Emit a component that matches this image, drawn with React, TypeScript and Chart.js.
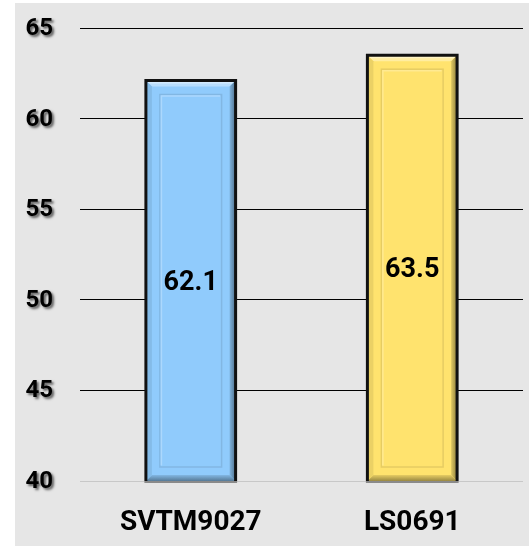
import React, { useEffect, useRef } from "react";
import { Chart, registerables } from "chart.js";

Chart.register(...registerables);

const categories = ["SVTM9027", "LS0691"];
const values = [62.1, 63.5];
const barColors = ["#90CBFC", "#FFE36E"];
const yMin = 40;
const yMax = 65;
const yStep = 5;

const FONT = "Roboto, 'Liberation Sans', Arial, sans-serif";

function mix(hex: string, target: number, amt: number): string {
  const n = parseInt(hex.slice(1), 16);
  const r = (n >> 16) & 255, g = (n >> 8) & 255, b = n & 255;
  const f = (c: number) => Math.round(c + (target - c) * amt);
  return `rgb(${f(r)},${f(g)},${f(b)})`;
}

const bgPlugin = {
  id: "bgPlugin",
  beforeDraw(chart: any) {
    const ctx = chart.ctx;
    ctx.save();
    ctx.fillStyle = "#ffffff";
    ctx.fillRect(0, 0, chart.width, chart.height);
    ctx.fillStyle = "#e6e6e6";
    ctx.fillRect(15, 3, chart.width - 15, chart.height - 3);
    ctx.restore();
  },
};

const bevelPlugin = {
  id: "bevelPlugin",
  afterDatasetsDraw(chart: any) {
    const ctx = chart.ctx;
    const meta = chart.getDatasetMeta(0);
    meta.data.forEach((bar: any, i: number) => {
      const { x, y, base, width } = bar.getProps(["x", "y", "base", "width"], true);
      const col = barColors[i];
      const L = x - width / 2;
      const R = x + width / 2;
      const T = y;
      const B = Math.min(base, chart.chartArea.bottom);
      const bw = 6;
      ctx.save();
      // top bevel (light)
      ctx.fillStyle = mix(col, 255, 0.35);
      ctx.beginPath();
      ctx.moveTo(L, T); ctx.lineTo(R, T); ctx.lineTo(R - bw, T + bw); ctx.lineTo(L + bw, T + bw); ctx.closePath();
      ctx.fill();
      ctx.fillStyle = mix(col, 255, 0.6);
      ctx.fillRect(L + 2, T + 1, width - 4, 2);
      // right bevel (dark gradient)
      const gr = ctx.createLinearGradient(R - bw, 0, R, 0);
      gr.addColorStop(0, mix(col, 0, 0.12));
      gr.addColorStop(1, mix(col, 0, 0.45));
      ctx.fillStyle = gr;
      ctx.beginPath();
      ctx.moveTo(R, T); ctx.lineTo(R, B); ctx.lineTo(R - bw, B - bw); ctx.lineTo(R - bw, T + bw); ctx.closePath();
      ctx.fill();
      // bottom bevel
      const gb = ctx.createLinearGradient(0, B - bw, 0, B);
      gb.addColorStop(0, mix(col, 0, 0.1));
      gb.addColorStop(1, mix(col, 0, 0.4));
      ctx.fillStyle = gb;
      ctx.beginPath();
      ctx.moveTo(L, B); ctx.lineTo(R, B); ctx.lineTo(R - bw, B - bw); ctx.lineTo(L + bw, B - bw); ctx.closePath();
      ctx.fill();
      // left bevel
      ctx.fillStyle = mix(col, 0, 0.08);
      ctx.beginPath();
      ctx.moveTo(L, T); ctx.lineTo(L, B); ctx.lineTo(L + bw, B - bw); ctx.lineTo(L + bw, T + bw); ctx.closePath();
      ctx.fill();
      // inner rectangle
      const ins = 14;
      ctx.lineWidth = 1.5;
      ctx.strokeStyle = mix(col, 0, 0.1);
      ctx.strokeRect(L + ins, T + ins, width - 2 * ins, B - T - 2 * ins);
      ctx.strokeStyle = mix(col, 255, 0.25);
      ctx.beginPath();
      ctx.moveTo(L + ins + 1.5, B - ins - 1.5);
      ctx.lineTo(L + ins + 1.5, T + ins + 1.5);
      ctx.lineTo(R - ins - 1.5, T + ins + 1.5);
      ctx.stroke();
      // outer frame
      ctx.lineWidth = 3;
      ctx.strokeStyle = "#111111";
      ctx.beginPath();
      ctx.moveTo(L, B);
      ctx.lineTo(L, T);
      ctx.lineTo(R, T);
      ctx.lineTo(R, B);
      ctx.stroke();
      ctx.lineWidth = 2;
      ctx.strokeStyle = "#8a8a8a";
      ctx.beginPath();
      ctx.moveTo(L - 1.5, B + 1);
      ctx.lineTo(R + 1.5, B + 1);
      ctx.stroke();
      // value label
      ctx.fillStyle = "#000000";
      ctx.font = `bold 27px ${FONT}`;
      ctx.textAlign = "center";
      ctx.textBaseline = "middle";
      ctx.fillText(String(values[i]), x, (T + B) / 2 + 2);
      ctx.restore();
    });
  },
};

const yLabelPlugin = {
  id: "yLabelPlugin",
  afterDraw(chart: any) {
    const ctx = chart.ctx;
    const ys = chart.scales.y;
    ctx.save();
    ctx.font = `bold 24px ${FONT}`;
    ctx.textAlign = "right";
    ctx.textBaseline = "middle";
    ctx.fillStyle = "#000000";
    ctx.shadowColor = "rgba(0,0,0,0.6)";
    ctx.shadowOffsetX = 2;
    ctx.shadowOffsetY = 2;
    ctx.shadowBlur = 2.5;
    ys.ticks.forEach((t: any, i: number) => {
      const py = ys.getPixelForTick(i);
      ctx.fillText(String(t.value), ys.right - 27, py + 1);
    });
    ctx.restore();
  },
};

export default function App() {
  const ref = useRef<HTMLCanvasElement | null>(null);
  useEffect(() => {
    if (!ref.current) return;
    const chart = new Chart(ref.current, {
      type: "bar",
      data: {
        labels: categories,
        datasets: [
          {
            data: values,
            backgroundColor: barColors,
            borderWidth: 0,
            categoryPercentage: 1,
            barPercentage: 0.405,
          },
        ],
      },
      options: {
        responsive: false,
        animation: false,
        events: [],
        layout: { padding: { left: 15, right: 6, top: 28, bottom: 9 } },
        plugins: {
          legend: { display: false },
          tooltip: { enabled: false },
          title: { display: false },
        },
        scales: {
          x: {
            grid: { display: false, drawTicks: false },
            border: { display: false },
            ticks: {
              color: "#000",
              padding: 25,
              font: { family: FONT, size: 28, weight: "bold" },
            },
            afterFit: (s: any) => {
              s.height = 56;
            },
          },
          y: {
            min: yMin,
            max: yMax,
            border: { display: false },
            grid: {
              drawTicks: false,
              lineWidth: 1,
              color: (c: any) => (c.tick && c.tick.value === yMin ? "#c8c8c8" : "#000000"),
            },
            ticks: {
              stepSize: yStep,
              color: "rgba(0,0,0,0)",
              padding: 25,
              font: { family: FONT, size: 1, weight: "bold" },
            },
            afterFit: (s: any) => {
              s.width = 65;
            },
          },
        },
      },
      plugins: [bgPlugin, bevelPlugin, yLabelPlugin],
    });
    return () => chart.destroy();
  }, []);
  return (
    <div style={{ position: "absolute", left: 0, top: 0, width: 529, height: 546 }}>
      <canvas ref={ref} width={529} height={546} style={{ display: "block" }} />
    </div>
  );
}
